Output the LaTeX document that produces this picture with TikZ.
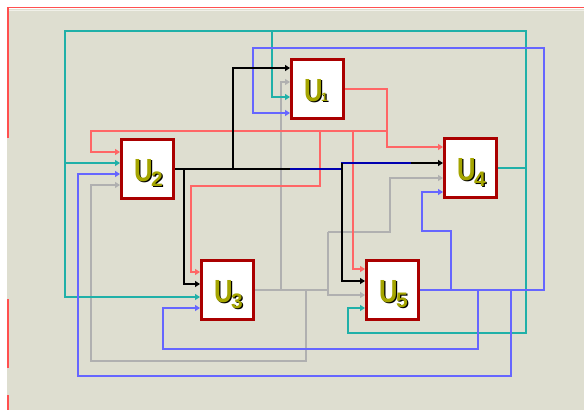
\documentclass[tikz,border=0pt]{standalone}
\usepackage{fontspec}
\setmainfont{Liberation Sans}
\usetikzlibrary{arrows.meta,calc}
\definecolor{bg}{RGB}{222,222,208}
\definecolor{bevel}{RGB}{240,240,232}
\definecolor{wred}{RGB}{255,102,102}
\definecolor{wteal}{RGB}{32,176,168}
\definecolor{wblue}{RGB}{102,102,255}
\definecolor{wgray}{RGB}{176,176,176}
\definecolor{wdblue}{RGB}{0,0,176}
\definecolor{boxred}{RGB}{170,0,0}
\definecolor{lblolive}{RGB}{165,165,0}
\definecolor{framered}{RGB}{255,80,80}
\newcommand\UGlyph{\scalebox{0.8}[1]{\fontsize{32}{32}\selectfont U}}
\newcommand\UnitLabel[4]{%
  \node[ulbl,text=black] at ($(#1.north west)+(15.2,44.2)$) {\UGlyph\kern-1.5pt\raisebox{#4}{\fontsize{#3}{#3}\selectfont #2}};
  \node[ulbl,text=lblolive] at ($(#1.north west)+(14,43)$) {\UGlyph\kern-1.5pt\raisebox{#4}{\fontsize{#3}{#3}\selectfont #2}};
}
\tikzset{
  ubox/.style={draw=boxred, line width=3pt, fill=white, minimum width=52pt, minimum height=59pt, inner sep=0pt},
  ulbl/.style={anchor=base west, inner sep=0pt, font=\bfseries},
  wire/.style={line width=1.7pt},
  arr/.style={-{Triangle[length=5pt,width=6pt]}},
}
\begin{document}
\begin{tikzpicture}[x=1pt,y=-1pt]
\useasboundingbox (0,0) rectangle (584,410);
% background and window frame
\fill[white] (0,0) rectangle (584,410);
\fill[bg] (7,8.5) rectangle (584,410);
\draw[bevel, line width=1pt] (9,10) -- (584,10);
\draw[framered, line width=1.2pt] (7,7.5) -- (584,7.5);
\draw[framered, line width=1.5pt] (7.8,7) -- (7.8,138);
\draw[framered, line width=1.5pt] (7.8,299) -- (7.8,368);
\draw[framered, line width=1.5pt] (7.8,395) -- (7.8,410);

% boxes
\node[ubox] (U1) at (317.5,89) {};
\node[ubox] (U2) at (147.5,169) {};
\node[ubox] (U3) at (227.5,290) {};
\node[ubox] (U4) at (470.5,168) {};
\node[ubox] (U5) at (392.5,290) {};

% input pins
\coordinate (U1k) at ($(U1.north west)+(0,10)$);
\coordinate (U1g) at ($(U1.north west)+(0,24)$);
\coordinate (U1t) at ($(U1.north west)+(0,39)$);
\coordinate (U1b) at ($(U1.north west)+(0,55)$);
\coordinate (U2r) at ($(U2.north west)+(0,14)$);
\coordinate (U2t) at ($(U2.north west)+(0,25)$);
\coordinate (U2b) at ($(U2.north west)+(0,36)$);
\coordinate (U2g) at ($(U2.north west)+(0,47)$);
\coordinate (U3r) at ($(U3.north west)+(0,13)$);
\coordinate (U3k) at ($(U3.north west)+(0,25)$);
\coordinate (U3t) at ($(U3.north west)+(0,38)$);
\coordinate (U3b) at ($(U3.north west)+(0,49)$);
\coordinate (U4r) at ($(U4.north west)+(0,10)$);
\coordinate (U4k) at ($(U4.north west)+(0,26)$);
\coordinate (U4g) at ($(U4.north west)+(0,41)$);
\coordinate (U4b) at ($(U4.north west)+(0,55)$);
\coordinate (U5r) at ($(U5.north west)+(0,10)$);
\coordinate (U5k) at ($(U5.north west)+(0,22)$);
\coordinate (U5g) at ($(U5.north west)+(0,36)$);
\coordinate (U5t) at ($(U5.north west)+(0,49)$);

% gray net (U3 out)
\draw[wire,wgray] (U3.east) -- (328,290);
\draw[wire,wgray,arr] (328,232) |- (U5g);
\draw[wire,wgray,arr] (328,232) -- (390,232) |- (U4g);
\draw[wire,wgray,arr] (281,290) |- (U1g);
\draw[wire,wgray,arr] (306,290) |- (91,361) |- (U2g);

% red net (U1 out)
\draw[wire,wred,arr] (U1.east) -| (387,131) |- (U4r);
\draw[wire,wred,arr] (387,131) -- (91,131) |- (U2r);
\draw[wire,wred,arr] (320,131) -- (320,186) -- (191,186) |- (U3r);
\draw[wire,wred,arr] (353,131) |- (U5r);

% teal net (U4 out)
\draw[wire,wteal,arr] (U4.east) -| (526,31) -- (65,31) |- (U3t);
\draw[wire,wteal,arr] (65,163) -- (U2t);
\draw[wire,wteal,arr] (272,31) |- (U1t);
\draw[wire,wteal,arr] (526,168) |- (348,333) |- (U5t);

% blue net (U5 out)
\draw[wire,wblue,arr] (U5.east) -| (544,48) -- (253,48) |- (U1b);
\draw[wire,wblue,arr] (451,290) |- (422,231) |- (U4b);
\draw[wire,wblue,arr] (478,290) |- (163,349) |- (U3b);
\draw[wire,wblue,arr] (511,290) |- (78,376) |- (U2b);

% black net (U2 out)
\draw[wire,black] (U2.east) -- (290,169);
\draw[wire,wdblue] (290,169) -- (342,169) -- (342,163) -- (411,163);
\draw[wire,black,arr] (411,163) -- (U4k);
\draw[wire,black,arr] (233,169) |- (U1k);
\draw[wire,black,arr] (184,169) |- (U3k);
\draw[wire,black,arr] (342,163) |- (U5k);

% labels
\UnitLabel{U1}{1}{12}{0pt}
\UnitLabel{U2}{2}{21}{-5pt}
\UnitLabel{U3}{3}{21}{-6pt}
\UnitLabel{U4}{4}{21}{-6pt}
\UnitLabel{U5}{5}{21}{-5pt}
\end{tikzpicture}
\end{document}
